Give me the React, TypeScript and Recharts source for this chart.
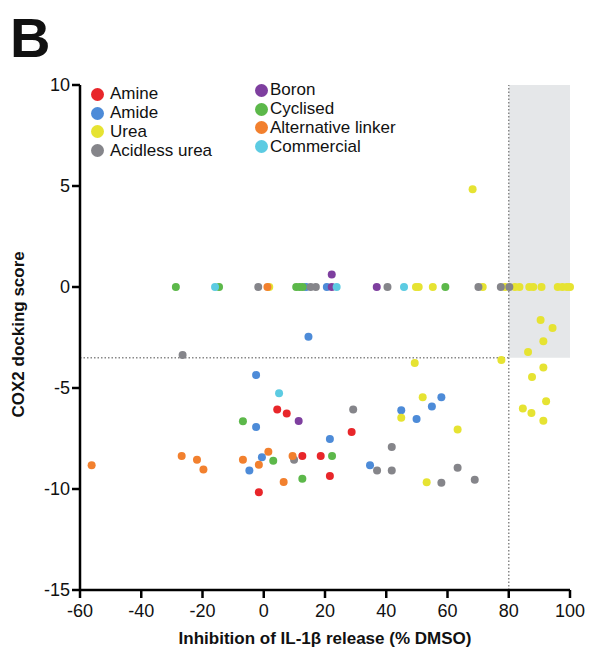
import React from "react";
import {
	Legend,
	ReferenceArea,
	ReferenceLine,
	Scatter,
	ScatterChart,
	XAxis,
	YAxis,
} from "recharts";

type Pt = { x: number; y: number };

// values (x = % inhibition, y = docking score)
const amine: Pt[] = [
	{ x: 4.4, y: -6.06 },
	{ x: 7.5, y: -6.26 },
	{ x: 12.6, y: -8.37 },
	{ x: 18.6, y: -8.37 },
	{ x: 21.6, y: -9.36 },
	{ x: 28.7, y: -7.18 },
	{ x: -1.6, y: -10.16 },
];

const amide: Pt[] = [
	{ x: 13.8, y: 0 },
	{ x: 20.6, y: 0 },
	{ x: 14.6, y: -2.46 },
	{ x: -2.5, y: -4.36 },
	{ x: -2.5, y: -6.93 },
	{ x: -0.6, y: -8.43 },
	{ x: -4.7, y: -9.09 },
	{ x: 21.6, y: -7.52 },
	{ x: 34.7, y: -8.83 },
	{ x: 44.9, y: -6.1 },
	{ x: 49.9, y: -6.53 },
	{ x: 54.9, y: -5.91 },
	{ x: 58.0, y: -5.46 },
];

const urea: Pt[] = [
	{ x: 1.8, y: 0 },
	{ x: 49.7, y: 0 },
	{ x: 50.6, y: 0 },
	{ x: 55.2, y: 0 },
	{ x: 71.5, y: 0 },
	{ x: 78.8, y: 0 },
	{ x: 82.0, y: 0 },
	{ x: 83.5, y: 0 },
	{ x: 86.7, y: 0 },
	{ x: 88.0, y: 0 },
	{ x: 90.7, y: 0 },
	{ x: 96.0, y: 0 },
	{ x: 97.5, y: 0 },
	{ x: 99.0, y: 0 },
	{ x: 100.0, y: 0 },
	{ x: 68.2, y: 4.84 },
	{ x: 90.4, y: -1.63 },
	{ x: 94.3, y: -2.03 },
	{ x: 91.3, y: -2.68 },
	{ x: 86.3, y: -3.22 },
	{ x: 77.6, y: -3.61 },
	{ x: 49.3, y: -3.76 },
	{ x: 91.3, y: -3.99 },
	{ x: 87.6, y: -4.46 },
	{ x: 51.9, y: -5.46 },
	{ x: 92.2, y: -5.66 },
	{ x: 84.6, y: -6.02 },
	{ x: 87.4, y: -6.24 },
	{ x: 91.3, y: -6.62 },
	{ x: 44.9, y: -6.47 },
	{ x: 63.3, y: -7.05 },
	{ x: 53.2, y: -9.67 },
];

const acidlessUrea: Pt[] = [
	{ x: -1.8, y: 0 },
	{ x: 15.3, y: 0 },
	{ x: 17.0, y: 0 },
	{ x: 40.4, y: 0 },
	{ x: 70.1, y: 0 },
	{ x: 77.4, y: 0 },
	{ x: 80.2, y: 0 },
	{ x: -26.5, y: -3.37 },
	{ x: 9.9, y: -8.55 },
	{ x: 29.2, y: -6.07 },
	{ x: 41.8, y: -7.92 },
	{ x: 37.0, y: -9.08 },
	{ x: 41.8, y: -9.08 },
	{ x: 63.3, y: -8.95 },
	{ x: 58.0, y: -9.69 },
	{ x: 68.9, y: -9.54 },
];

const boron: Pt[] = [
	{ x: 22.2, y: 0 },
	{ x: 22.2, y: 0.62 },
	{ x: 36.9, y: 0 },
	{ x: 11.4, y: -6.63 },
];

const cyclised: Pt[] = [
	{ x: -28.7, y: 0 },
	{ x: -14.6, y: 0 },
	{ x: 10.6, y: 0 },
	{ x: 11.7, y: 0 },
	{ x: 12.7, y: 0 },
	{ x: 59.3, y: 0 },
	{ x: -6.8, y: -6.65 },
	{ x: 3.1, y: -8.6 },
	{ x: 12.6, y: -9.49 },
	{ x: 22.3, y: -8.37 },
];

const altLinker: Pt[] = [
	{ x: 1.2, y: 0 },
	{ x: -56.2, y: -8.83 },
	{ x: -26.8, y: -8.37 },
	{ x: -21.8, y: -8.55 },
	{ x: -19.7, y: -9.04 },
	{ x: -6.8, y: -8.55 },
	{ x: -1.6, y: -8.8 },
	{ x: 1.5, y: -8.15 },
	{ x: 6.5, y: -9.65 },
	{ x: 9.4, y: -8.37 },
];

const commercial: Pt[] = [
	{ x: -15.9, y: 0 },
	{ x: 23.8, y: 0 },
	{ x: 45.8, y: 0 },
	{ x: 5.0, y: -5.26 },
];

const xTicks = [-60, -40, -20, 0, 20, 40, 60, 80, 100];
const yTicks = [-15, -10, -5, 0, 5, 10];

const series = [
	{ name: "Amine", data: amine, color: "#e8262a" },
	{ name: "Amide", data: amide, color: "#4d8bd8" },
	{ name: "Urea", data: urea, color: "#e6e332" },
	{ name: "Acidless urea", data: acidlessUrea, color: "#85858a" },
	{ name: "Boron", data: boron, color: "#7e3f9f" },
	{ name: "Cyclised", data: cyclised, color: "#5cb84a" },
	{ name: "Alternative linker", data: altLinker, color: "#f2802e" },
	{ name: "Commercial", data: commercial, color: "#5ccbe2" },
];

const font = "'Liberation Sans', Arial, sans-serif";

const Dot = (color: string) => (props: any) => (
	<circle cx={props.cx} cy={props.cy} r={4} fill={color} />
);

// two columns of four, like the figure
const LegendBox = () => {
	const cols = [series.slice(0, 4), series.slice(4)];
	return (
		<div style={{ position: "relative", fontFamily: font, fontSize: 17 }}>
			{cols.map((col, ci) => (
				<div
					key={ci}
					style={{
						position: "absolute",
						left: ci === 0 ? 0 : 164,
						top: ci === 0 ? 0 : -4,
					}}
				>
					{col.map((s) => (
						<div
							key={s.name}
							style={{
								display: "flex",
								alignItems: "center",
								height: 18.8,
								color: "#111",
							}}
						>
							<span
								style={{
									display: "inline-block",
									width: 13,
									height: 13,
									borderRadius: "50%",
									background: s.color,
									marginRight: ci === 0 ? 6 : 2,
								}}
							/>
							{s.name}
						</div>
					))}
				</div>
			))}
		</div>
	);
};

export default function App() {
	return (
		<div
			style={{
				position: "absolute",
				left: 0,
				top: 0,
				width: 592,
				height: 654,
				background: "#fff",
			}}
		>
			<div
				style={{
					position: "absolute",
					left: 10,
					top: 10,
					fontFamily: font,
					fontWeight: 700,
					fontSize: 56,
					lineHeight: "56px",
					color: "#111",
				}}
			>
				B
			</div>
			<ScatterChart
				width={592}
				height={654}
				margin={{ top: 85, right: 22, bottom: 34, left: 30 }}
			>
				<ReferenceArea
					x1={80}
					x2={100}
					y1={-3.5}
					y2={10}
					fill="#e5e7e9"
					fillOpacity={1}
					stroke="none"
				/>
				<ReferenceLine
					segment={[
						{ x: -60, y: -3.5 },
						{ x: 80, y: -3.5 },
					]}
					stroke="#888"
					strokeWidth={1.5}
					strokeDasharray="1.5 2"
				/>
				<ReferenceLine
					segment={[
						{ x: 80, y: -15 },
						{ x: 80, y: 10 },
					]}
					stroke="#888"
					strokeWidth={1.5}
					strokeDasharray="1.5 2"
				/>
				<XAxis
					type="number"
					dataKey="x"
					domain={[-60, 100]}
					ticks={xTicks}
					height={30}
					axisLine={{ stroke: "#000", strokeWidth: 2.5 }}
					tickLine={{ stroke: "#000", strokeWidth: 2.5 }}
					tickSize={8}
					tick={{ fill: "#111", fontSize: 18, fontFamily: font, dy: 4 }}
					label={{
						value: "Inhibition of IL-1β release (% DMSO)",
						position: "insideBottom",
						offset: -24,
						fill: "#111",
						fontSize: 17,
						fontWeight: 700,
						fontFamily: font,
					}}
				/>
				<YAxis
					type="number"
					dataKey="y"
					domain={[-15, 10]}
					ticks={yTicks}
					width={50}
					axisLine={{ stroke: "#000", strokeWidth: 2.5 }}
					tickLine={{ stroke: "#000", strokeWidth: 2.5 }}
					tickSize={8}
					tick={{ fill: "#111", fontSize: 18, fontFamily: font }}
					label={{
						value: "COX2 docking score",
						angle: -90,
						position: "insideLeft",
						offset: -12,
						dy: 80,
						fill: "#111",
						fontSize: 17,
						fontWeight: 700,
						fontFamily: font,
					}}
				/>
				<Legend
					content={<LegendBox />}
					wrapperStyle={{ position: "absolute", left: 91, top: 85, width: 320 }}
				/>
				{series.map((s) => (
					<Scatter
						key={s.name}
						name={s.name}
						data={s.data}
						fill={s.color}
						shape={Dot(s.color)}
						isAnimationActive={false}
					/>
				))}
			</ScatterChart>
		</div>
	);
}
